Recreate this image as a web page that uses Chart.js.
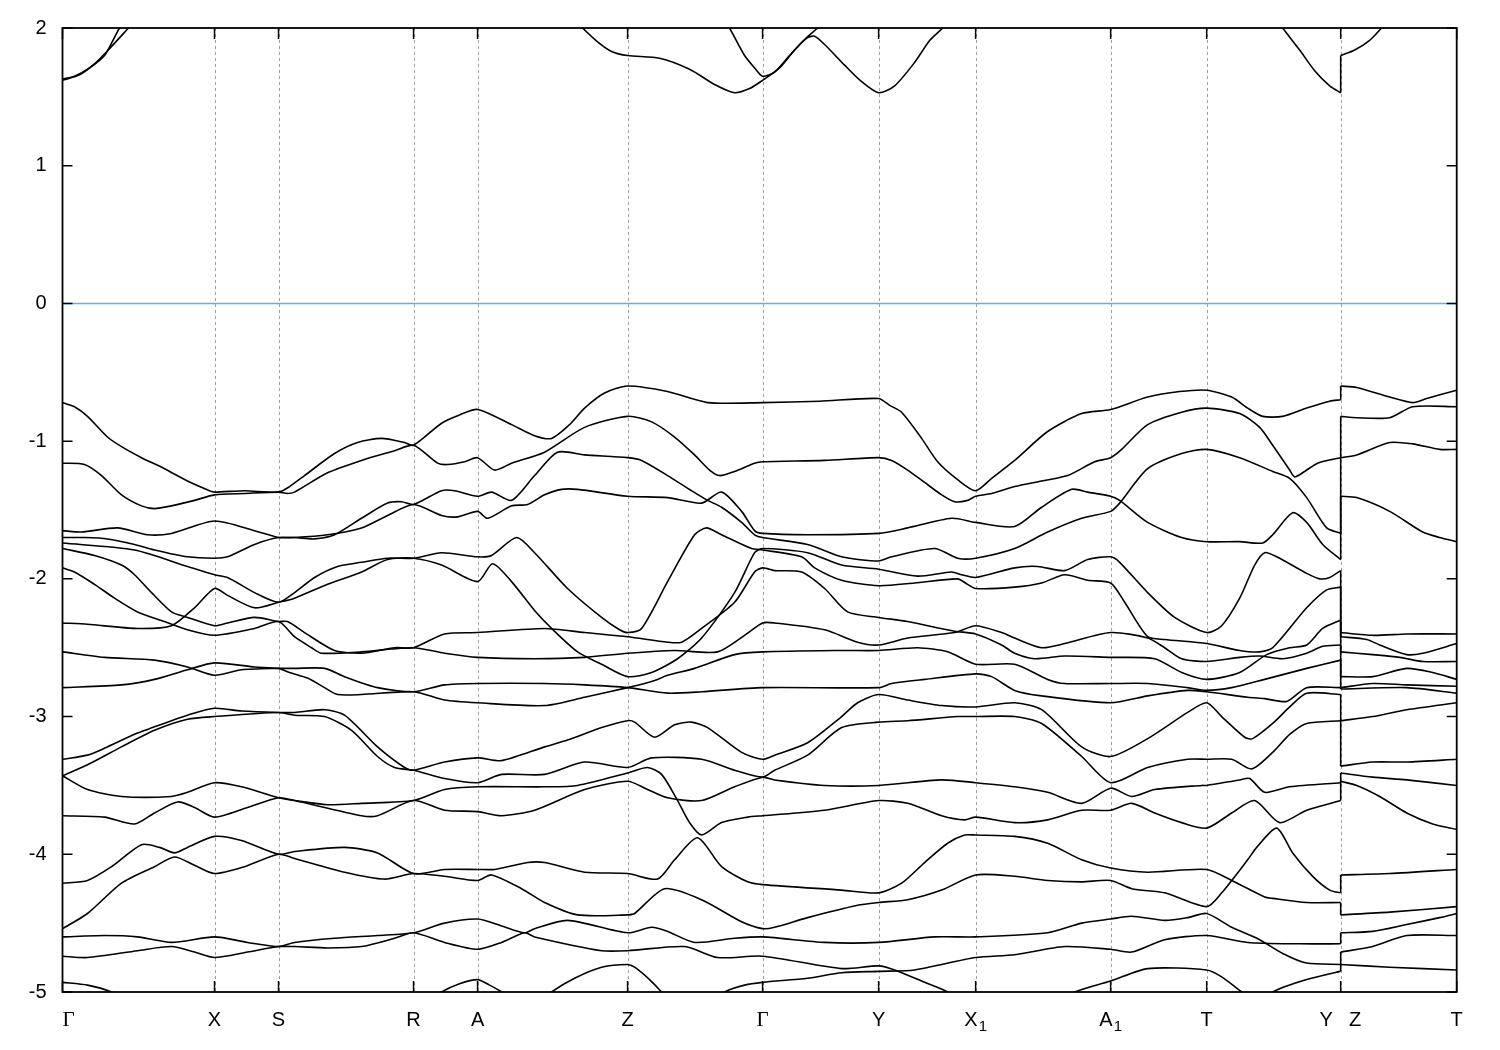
<!DOCTYPE html>
<html>
<head>
<meta charset="utf-8">
<script src="https://cdn.jsdelivr.net/npm/chart.js@4.4.1/dist/chart.umd.min.js"></script>
<style>
  html, body { margin: 0; padding: 0; background: #fff; }
  #wrap { width: 1500px; height: 1050px; }
</style>
</head>
<body>
<div id="wrap"><canvas id="bandChart" width="1500" height="1050"></canvas></div>
<script>
(function () {
  "use strict";

  // k-path (arb. units) and labels of the high-symmetry points
  const kTicks = [0, 0.152, 0.216, 0.351, 0.415, 0.565, 0.700, 0.816, 0.913, 1.048, 1.144, 1.278, 1.394];
  const kLabels = ["Γ", "X", "S", "R", "A", "Z", "Γ", "Y", "X_1", "A_1", "T", "Y|Z", "T"];
  const eTicks = [2, 1, 0, -1, -2, -3, -4, -5];
  const eRange = [-5, 2];
  const fermiLevel = 0;

  // conduction bands [k, E(eV)]
  const cb1 = [[0,1.63],[0.012,1.65],[0.027,1.71],[0.042,1.80],[0.057,2.00],[0.068,2.10]];
  const cb2 = [[0,1.62],[0.017,1.66],[0.032,1.74],[0.047,1.85],[0.066,2.00],[0.076,2.08]];
  const cb3 = [[0.510,2.08],[0.520,2.00],[0.535,1.90],[0.549,1.83],[0.565,1.80],[0.597,1.78],[0.627,1.70],[0.652,1.59],[0.672,1.53],[0.687,1.56],[0.700,1.62],[0.717,1.71],[0.732,1.84],[0.745,1.93],[0.752,1.94],[0.762,1.88],[0.782,1.73],[0.799,1.61],[0.816,1.53],[0.832,1.58],[0.852,1.75],[0.867,1.91],[0.880,2.00],[0.888,2.08]];
  const cb4 = [[0.660,2.08],[0.667,2.00],[0.682,1.80],[0.692,1.71],[0.700,1.65],[0.712,1.68],[0.727,1.80],[0.737,1.88],[0.747,1.95],[0.755,2.00],[0.762,2.06]];
  const cb5 = [[1.212,2.08],[1.220,2.00],[1.237,1.84],[1.252,1.69],[1.267,1.58],[1.278,1.53],[1.278,1.80],[1.292,1.84],[1.307,1.91],[1.319,2.00],[1.327,2.06]];

  // valence bands [k, E(eV)]
  const vb01 = [[0,-0.72],[0.012,-0.75],[0.025,-0.82],[0.045,-0.97],[0.059,-1.04],[0.079,-1.12],[0.102,-1.20],[0.125,-1.29],[0.147,-1.36],[0.152,-1.37],[0.182,-1.36],[0.216,-1.37],[0.227,-1.33],[0.242,-1.25],[0.272,-1.09],[0.295,-1.01],[0.319,-0.98],[0.342,-1.01],[0.351,-1.03],[0.379,-0.87],[0.397,-0.81],[0.415,-0.77],[0.449,-0.88],[0.472,-0.96],[0.489,-0.98],[0.507,-0.88],[0.522,-0.76],[0.542,-0.65],[0.565,-0.60],[0.605,-0.64],[0.645,-0.72],[0.700,-0.72],[0.757,-0.71],[0.816,-0.69],[0.827,-0.74],[0.839,-0.79],[0.859,-0.98],[0.875,-1.15],[0.895,-1.28],[0.913,-1.36],[0.929,-1.27],[0.952,-1.14],[0.985,-0.93],[1.019,-0.80],[1.048,-0.77],[1.085,-0.68],[1.117,-0.64],[1.144,-0.63],[1.169,-0.68],[1.185,-0.76],[1.200,-0.82],[1.220,-0.82],[1.244,-0.76],[1.267,-0.71],[1.278,-0.70],[1.278,-0.60],[1.294,-0.61],[1.327,-0.68],[1.350,-0.72],[1.364,-0.69],[1.394,-0.63]];
  const vb02 = [[0,-1.16],[0.022,-1.17],[0.039,-1.25],[0.059,-1.39],[0.079,-1.47],[0.092,-1.49],[0.109,-1.47],[0.132,-1.43],[0.152,-1.39],[0.182,-1.38],[0.216,-1.37],[0.225,-1.38],[0.232,-1.37],[0.265,-1.23],[0.299,-1.14],[0.332,-1.07],[0.351,-1.03],[0.375,-1.16],[0.385,-1.17],[0.402,-1.15],[0.415,-1.12],[0.432,-1.21],[0.449,-1.16],[0.482,-1.08],[0.522,-0.90],[0.565,-0.82],[0.589,-0.86],[0.612,-0.97],[0.632,-1.10],[0.647,-1.21],[0.657,-1.25],[0.672,-1.22],[0.692,-1.16],[0.700,-1.15],[0.762,-1.14],[0.816,-1.12],[0.829,-1.14],[0.845,-1.21],[0.862,-1.30],[0.879,-1.39],[0.892,-1.44],[0.905,-1.43],[0.913,-1.40],[0.929,-1.38],[0.952,-1.33],[0.979,-1.29],[1.005,-1.25],[1.032,-1.15],[1.048,-1.12],[1.059,-1.06],[1.085,-0.88],[1.119,-0.79],[1.144,-0.76],[1.177,-0.80],[1.197,-0.90],[1.210,-1.03],[1.227,-1.21],[1.232,-1.26],[1.242,-1.22],[1.255,-1.16],[1.278,-1.12],[1.278,-0.82],[1.294,-0.83],[1.327,-0.83],[1.350,-0.75],[1.394,-0.75]];
  const vb03 = [[0,-1.65],[0.019,-1.66],[0.055,-1.63],[0.085,-1.68],[0.109,-1.67],[0.152,-1.58],[0.192,-1.65],[0.216,-1.70],[0.232,-1.70],[0.252,-1.71],[0.272,-1.68],[0.299,-1.56],[0.325,-1.45],[0.339,-1.44],[0.351,-1.46],[0.379,-1.36],[0.392,-1.36],[0.415,-1.40],[0.429,-1.37],[0.449,-1.43],[0.472,-1.25],[0.495,-1.08],[0.522,-1.10],[0.565,-1.12],[0.579,-1.14],[0.605,-1.25],[0.629,-1.36],[0.645,-1.43],[0.659,-1.48],[0.679,-1.59],[0.692,-1.68],[0.700,-1.70],[0.745,-1.75],[0.779,-1.84],[0.816,-1.87],[0.829,-1.84],[0.872,-1.78],[0.895,-1.85],[0.913,-1.85],[0.952,-1.78],[0.985,-1.66],[1.019,-1.56],[1.048,-1.51],[1.057,-1.45],[1.085,-1.20],[1.119,-1.09],[1.144,-1.06],[1.177,-1.12],[1.210,-1.22],[1.227,-1.27],[1.244,-1.41],[1.264,-1.63],[1.278,-1.67],[1.278,-1.12],[1.294,-1.10],[1.327,-1.01],[1.350,-1.02],[1.377,-1.06],[1.394,-1.06]];
  const vb04 = [[0,-1.70],[0.022,-1.70],[0.045,-1.71],[0.072,-1.75],[0.092,-1.79],[0.125,-1.84],[0.152,-1.85],[0.165,-1.84],[0.192,-1.75],[0.216,-1.70],[0.232,-1.70],[0.265,-1.68],[0.299,-1.63],[0.325,-1.54],[0.351,-1.46],[0.379,-1.54],[0.395,-1.55],[0.415,-1.51],[0.425,-1.56],[0.449,-1.47],[0.465,-1.46],[0.482,-1.39],[0.499,-1.35],[0.515,-1.35],[0.565,-1.40],[0.605,-1.41],[0.639,-1.45],[0.659,-1.37],[0.679,-1.51],[0.692,-1.65],[0.700,-1.67],[0.745,-1.68],[0.816,-1.67],[0.845,-1.63],[0.889,-1.56],[0.913,-1.59],[0.952,-1.62],[0.979,-1.48],[1.009,-1.35],[1.025,-1.37],[1.048,-1.40],[1.057,-1.43],[1.085,-1.59],[1.119,-1.70],[1.144,-1.73],[1.177,-1.73],[1.200,-1.74],[1.210,-1.68],[1.230,-1.52],[1.244,-1.59],[1.260,-1.75],[1.278,-1.86],[1.278,-1.40],[1.294,-1.41],[1.327,-1.51],[1.360,-1.66],[1.377,-1.70],[1.394,-1.73]];
  const vb05 = [[0,-1.74],[0.072,-1.79],[0.125,-1.91],[0.152,-1.97],[0.165,-1.99],[0.192,-2.10],[0.216,-2.17],[0.232,-2.10],[0.252,-1.99],[0.275,-1.91],[0.299,-1.88],[0.325,-1.85],[0.351,-1.85],[0.379,-1.81],[0.415,-1.84],[0.429,-1.83],[0.454,-1.70],[0.472,-1.81],[0.505,-2.07],[0.539,-2.28],[0.557,-2.37],[0.565,-2.39],[0.579,-2.36],[0.605,-2.02],[0.632,-1.68],[0.644,-1.63],[0.659,-1.68],[0.689,-1.78],[0.700,-1.79],[0.739,-1.84],[0.752,-1.92],[0.779,-2.01],[0.816,-2.05],[0.852,-2.03],[0.895,-2.00],[0.905,-2.04],[0.913,-2.07],[0.952,-2.06],[0.979,-2.03],[1.002,-1.97],[1.025,-2.01],[1.048,-2.03],[1.062,-2.17],[1.085,-2.42],[1.102,-2.44],[1.144,-2.47],[1.177,-2.52],[1.197,-2.53],[1.210,-2.50],[1.244,-2.21],[1.264,-2.08],[1.278,-2.06],[1.278,-2.42],[1.304,-2.44],[1.317,-2.48],[1.344,-2.55],[1.360,-2.54],[1.394,-2.47]];
  const vb06 = [[0,-2.32],[0.025,-2.33],[0.075,-2.36],[0.109,-2.34],[0.132,-2.21],[0.152,-2.07],[0.165,-2.12],[0.192,-2.21],[0.216,-2.17],[0.232,-2.14],[0.265,-2.04],[0.299,-1.95],[0.325,-1.86],[0.351,-1.85],[0.379,-1.90],[0.415,-2.02],[0.430,-1.89],[0.449,-2.02],[0.472,-2.23],[0.489,-2.36],[0.515,-2.53],[0.539,-2.62],[0.565,-2.71],[0.589,-2.68],[0.615,-2.58],[0.639,-2.43],[0.672,-2.10],[0.692,-1.81],[0.700,-1.78],[0.745,-1.81],[0.779,-1.90],[0.816,-1.93],[0.855,-1.98],[0.889,-1.95],[0.899,-1.97],[0.913,-1.99],[0.952,-1.92],[0.975,-1.91],[1.002,-1.94],[1.025,-1.86],[1.048,-1.84],[1.057,-1.88],[1.085,-2.10],[1.112,-2.28],[1.144,-2.39],[1.159,-2.34],[1.177,-2.14],[1.192,-1.90],[1.202,-1.81],[1.214,-1.84],[1.244,-1.96],[1.257,-2.00],[1.267,-1.99],[1.278,-1.94],[1.278,-2.39],[1.310,-2.41],[1.344,-2.40],[1.394,-2.40]];
  const vb07 = [[0,-1.78],[0.032,-1.83],[0.059,-1.90],[0.072,-1.97],[0.089,-2.10],[0.109,-2.24],[0.125,-2.28],[0.152,-2.34],[0.165,-2.32],[0.192,-2.28],[0.216,-2.31],[0.225,-2.31],[0.242,-2.39],[0.272,-2.52],[0.299,-2.54],[0.332,-2.50],[0.351,-2.50],[0.382,-2.40],[0.415,-2.39],[0.482,-2.36],[0.522,-2.39],[0.565,-2.42],[0.605,-2.46],[0.619,-2.46],[0.639,-2.36],[0.672,-2.17],[0.692,-1.95],[0.700,-1.92],[0.712,-1.94],[0.739,-1.95],[0.762,-2.07],[0.785,-2.24],[0.816,-2.28],[0.845,-2.31],[0.892,-2.38],[0.913,-2.40],[0.939,-2.48],[0.952,-2.54],[0.972,-2.58],[1.002,-2.56],[1.048,-2.57],[1.092,-2.58],[1.119,-2.68],[1.144,-2.73],[1.177,-2.68],[1.204,-2.55],[1.227,-2.50],[1.244,-2.48],[1.260,-2.36],[1.278,-2.30],[1.278,-2.53],[1.310,-2.55],[1.337,-2.57],[1.360,-2.60],[1.394,-2.60]];
  const vb08 = [[0,-1.92],[0.012,-1.95],[0.032,-2.04],[0.052,-2.14],[0.075,-2.24],[0.102,-2.31],[0.125,-2.37],[0.152,-2.41],[0.192,-2.36],[0.216,-2.31],[0.232,-2.42],[0.249,-2.50],[0.259,-2.54],[0.299,-2.53],[0.351,-2.50],[0.382,-2.54],[0.415,-2.57],[0.472,-2.58],[0.522,-2.57],[0.565,-2.54],[0.612,-2.52],[0.655,-2.53],[0.682,-2.41],[0.700,-2.32],[0.712,-2.32],[0.762,-2.37],[0.795,-2.46],[0.816,-2.48],[0.845,-2.43],[0.892,-2.39],[0.913,-2.34],[0.939,-2.39],[0.952,-2.43],[0.979,-2.50],[1.002,-2.47],[1.048,-2.39],[1.085,-2.43],[1.102,-2.50],[1.119,-2.58],[1.144,-2.60],[1.177,-2.57],[1.197,-2.56],[1.220,-2.58],[1.244,-2.54],[1.260,-2.49],[1.278,-2.48],[1.278,-2.71],[1.310,-2.71],[1.344,-2.65],[1.370,-2.68],[1.394,-2.73]];
  const vb09 = [[0,-2.53],[0.042,-2.57],[0.092,-2.59],[0.125,-2.64],[0.152,-2.70],[0.179,-2.66],[0.216,-2.65],[0.232,-2.65],[0.262,-2.65],[0.282,-2.71],[0.315,-2.79],[0.351,-2.82],[0.382,-2.77],[0.415,-2.76],[0.482,-2.76],[0.522,-2.77],[0.565,-2.79],[0.605,-2.83],[0.639,-2.82],[0.700,-2.79],[0.816,-2.79],[0.829,-2.76],[0.862,-2.73],[0.913,-2.69],[0.929,-2.71],[0.952,-2.81],[0.979,-2.85],[1.048,-2.90],[1.085,-2.85],[1.125,-2.81],[1.144,-2.82],[1.185,-2.86],[1.202,-2.87],[1.224,-2.89],[1.244,-2.79],[1.278,-2.79],[1.278,-2.80],[1.344,-2.79],[1.394,-2.83]];
  const vb10 = [[0,-2.79],[0.059,-2.77],[0.092,-2.73],[0.125,-2.66],[0.152,-2.61],[0.192,-2.64],[0.216,-2.65],[0.227,-2.68],[0.245,-2.72],[0.262,-2.79],[0.275,-2.84],[0.299,-2.84],[0.351,-2.82],[0.382,-2.88],[0.415,-2.90],[0.482,-2.92],[0.522,-2.86],[0.565,-2.79],[0.582,-2.76],[0.595,-2.73],[0.605,-2.70],[0.632,-2.65],[0.672,-2.55],[0.700,-2.53],[0.779,-2.52],[0.816,-2.52],[0.855,-2.50],[0.885,-2.53],[0.913,-2.62],[0.952,-2.62],[0.985,-2.73],[1.002,-2.76],[1.048,-2.76],[1.085,-2.76],[1.125,-2.79],[1.144,-2.81],[1.169,-2.79],[1.202,-2.73],[1.244,-2.65],[1.278,-2.59],[1.278,-2.79],[1.310,-2.76],[1.344,-2.77],[1.394,-2.78]];
  const vb11 = [[0,-3.31],[0.025,-3.28],[0.042,-3.23],[0.075,-3.12],[0.109,-3.03],[0.125,-2.99],[0.152,-2.94],[0.179,-2.96],[0.216,-2.97],[0.232,-2.97],[0.262,-2.95],[0.282,-2.99],[0.315,-3.22],[0.342,-3.37],[0.351,-3.39],[0.382,-3.33],[0.415,-3.30],[0.439,-3.32],[0.482,-3.22],[0.505,-3.17],[0.539,-3.08],[0.565,-3.03],[0.572,-3.04],[0.592,-3.15],[0.612,-3.06],[0.629,-3.04],[0.645,-3.08],[0.679,-3.26],[0.700,-3.31],[0.712,-3.28],[0.745,-3.19],[0.779,-3.00],[0.795,-2.90],[0.816,-2.84],[0.845,-2.88],[0.879,-2.92],[0.913,-2.93],[0.952,-2.90],[0.979,-2.95],[1.019,-3.22],[1.048,-3.29],[1.085,-3.16],[1.125,-2.97],[1.144,-2.90],[1.159,-3.00],[1.182,-3.15],[1.190,-3.16],[1.210,-3.05],[1.227,-2.93],[1.244,-2.83],[1.278,-2.84],[1.278,-3.03],[1.310,-3.00],[1.344,-2.95],[1.394,-2.90]];
  const vb12 = [[0,-3.43],[0.025,-3.35],[0.059,-3.22],[0.092,-3.10],[0.125,-3.02],[0.152,-3.00],[0.216,-2.97],[0.232,-2.99],[0.262,-3.00],[0.289,-3.10],[0.315,-3.29],[0.332,-3.37],[0.351,-3.39],[0.382,-3.45],[0.415,-3.48],[0.439,-3.42],[0.482,-3.42],[0.522,-3.33],[0.565,-3.37],[0.589,-3.30],[0.639,-3.31],[0.672,-3.39],[0.700,-3.44],[0.712,-3.39],[0.745,-3.28],[0.779,-3.08],[0.816,-3.04],[0.845,-3.03],[0.895,-3.00],[0.913,-3.00],[0.952,-3.00],[0.979,-3.05],[1.019,-3.29],[1.048,-3.48],[1.085,-3.37],[1.125,-3.31],[1.144,-3.31],[1.169,-3.31],[1.189,-3.38],[1.210,-3.26],[1.227,-3.13],[1.244,-3.05],[1.278,-3.03],[1.278,-3.36],[1.310,-3.33],[1.344,-3.33],[1.394,-3.31]];
  const vb13 = [[0,-3.43],[0.025,-3.53],[0.059,-3.58],[0.109,-3.58],[0.125,-3.55],[0.152,-3.48],[0.179,-3.51],[0.216,-3.59],[0.232,-3.61],[0.265,-3.64],[0.299,-3.63],[0.351,-3.61],[0.382,-3.53],[0.415,-3.51],[0.482,-3.51],[0.515,-3.50],[0.565,-3.41],[0.585,-3.37],[0.599,-3.42],[0.615,-3.61],[0.627,-3.77],[0.639,-3.86],[0.659,-3.77],[0.685,-3.73],[0.700,-3.72],[0.762,-3.68],[0.816,-3.61],[0.845,-3.63],[0.879,-3.72],[0.902,-3.75],[0.913,-3.73],[0.952,-3.77],[0.985,-3.75],[1.019,-3.68],[1.048,-3.68],[1.069,-3.63],[1.092,-3.70],[1.119,-3.77],[1.144,-3.81],[1.169,-3.70],[1.192,-3.61],[1.217,-3.77],[1.244,-3.68],[1.278,-3.61],[1.278,-3.47],[1.294,-3.50],[1.317,-3.58],[1.344,-3.70],[1.370,-3.78],[1.394,-3.82]];
  const vb14 = [[0,-3.72],[0.042,-3.73],[0.072,-3.78],[0.092,-3.70],[0.115,-3.62],[0.132,-3.66],[0.152,-3.73],[0.185,-3.66],[0.216,-3.59],[0.232,-3.61],[0.299,-3.72],[0.315,-3.72],[0.351,-3.61],[0.382,-3.68],[0.415,-3.69],[0.439,-3.72],[0.472,-3.68],[0.522,-3.53],[0.565,-3.47],[0.585,-3.53],[0.605,-3.59],[0.639,-3.61],[0.672,-3.51],[0.700,-3.44],[0.712,-3.46],[0.762,-3.50],[0.816,-3.50],[0.879,-3.46],[0.913,-3.48],[0.952,-3.51],[0.985,-3.55],[1.019,-3.63],[1.048,-3.52],[1.069,-3.58],[1.092,-3.53],[1.139,-3.50],[1.144,-3.50],[1.177,-3.46],[1.187,-3.45],[1.202,-3.55],[1.227,-3.51],[1.278,-3.48],[1.278,-3.41],[1.310,-3.44],[1.344,-3.46],[1.394,-3.50]];
  const vb15 = [[0,-4.21],[0.025,-4.19],[0.049,-4.09],[0.079,-3.93],[0.097,-3.95],[0.112,-3.99],[0.125,-3.95],[0.152,-3.87],[0.179,-3.90],[0.216,-4.00],[0.232,-3.98],[0.282,-3.95],[0.315,-3.99],[0.351,-4.14],[0.382,-4.11],[0.415,-4.11],[0.432,-4.11],[0.465,-4.06],[0.482,-4.06],[0.522,-4.13],[0.565,-4.14],[0.595,-4.18],[0.612,-4.04],[0.635,-3.88],[0.659,-4.09],[0.685,-4.20],[0.700,-4.22],[0.779,-4.26],[0.816,-4.28],[0.839,-4.21],[0.862,-4.06],[0.885,-3.92],[0.902,-3.86],[0.913,-3.86],[0.952,-3.87],[0.985,-3.92],[1.019,-4.04],[1.048,-4.10],[1.085,-4.13],[1.144,-4.11],[1.169,-4.19],[1.202,-4.31],[1.210,-4.32],[1.244,-4.35],[1.278,-4.35],[1.278,-4.44],[1.327,-4.42],[1.394,-4.38]];
  const vb16 = [[0,-4.54],[0.025,-4.43],[0.059,-4.21],[0.092,-4.09],[0.112,-4.02],[0.132,-4.08],[0.152,-4.14],[0.182,-4.09],[0.216,-4.00],[0.232,-4.03],[0.282,-4.13],[0.322,-4.18],[0.351,-4.14],[0.382,-4.16],[0.415,-4.19],[0.429,-4.15],[0.459,-4.25],[0.482,-4.35],[0.515,-4.44],[0.565,-4.44],[0.572,-4.43],[0.602,-4.25],[0.639,-4.33],[0.679,-4.49],[0.700,-4.54],[0.712,-4.53],[0.745,-4.46],[0.795,-4.37],[0.816,-4.35],[0.845,-4.33],[0.879,-4.26],[0.913,-4.15],[0.952,-4.16],[0.985,-4.19],[1.019,-4.20],[1.048,-4.19],[1.069,-4.25],[1.102,-4.28],[1.144,-4.38],[1.159,-4.28],[1.185,-4.04],[1.194,-3.95],[1.214,-3.81],[1.230,-3.99],[1.250,-4.16],[1.267,-4.26],[1.278,-4.28],[1.278,-4.15],[1.327,-4.14],[1.394,-4.11]];
  const vb17 = [[0,-4.60],[0.042,-4.59],[0.075,-4.60],[0.109,-4.64],[0.152,-4.60],[0.185,-4.64],[0.216,-4.67],[0.232,-4.64],[0.272,-4.61],[0.315,-4.59],[0.351,-4.57],[0.382,-4.50],[0.415,-4.47],[0.439,-4.52],[0.462,-4.57],[0.472,-4.54],[0.505,-4.48],[0.565,-4.57],[0.589,-4.53],[0.605,-4.56],[0.632,-4.64],[0.672,-4.61],[0.700,-4.60],[0.762,-4.64],[0.816,-4.64],[0.872,-4.60],[0.913,-4.60],[0.985,-4.57],[1.019,-4.50],[1.048,-4.47],[1.069,-4.45],[1.102,-4.48],[1.125,-4.46],[1.144,-4.43],[1.169,-4.53],[1.197,-4.62],[1.220,-4.72],[1.244,-4.79],[1.278,-4.80],[1.278,-4.71],[1.310,-4.67],[1.344,-4.59],[1.394,-4.59]];
  const vb18 = [[0,-4.74],[0.025,-4.75],[0.075,-4.70],[0.109,-4.67],[0.132,-4.71],[0.152,-4.75],[0.185,-4.71],[0.216,-4.67],[0.232,-4.67],[0.265,-4.68],[0.299,-4.67],[0.332,-4.61],[0.351,-4.57],[0.382,-4.64],[0.415,-4.69],[0.439,-4.64],[0.462,-4.57],[0.472,-4.60],[0.539,-4.70],[0.565,-4.70],[0.622,-4.67],[0.655,-4.75],[0.700,-4.74],[0.779,-4.83],[0.816,-4.81],[0.832,-4.84],[0.862,-4.93],[0.885,-5.00],[0.902,-5.09]];
  const vb19 = [[0,-4.93],[0.025,-4.95],[0.049,-5.00],[0.072,-5.09]];
  const vb20 = [[0.362,-5.09],[0.379,-5.00],[0.397,-4.94],[0.415,-4.91],[0.427,-4.95],[0.439,-5.00],[0.452,-5.08]];
  const vb21 = [[0.477,-5.08],[0.489,-5.00],[0.512,-4.90],[0.539,-4.82],[0.565,-4.80],[0.572,-4.82],[0.587,-4.91],[0.599,-5.00],[0.609,-5.08]];
  const vb22 = [[0.649,-5.08],[0.662,-5.00],[0.682,-4.95],[0.700,-4.93],[0.745,-4.90],[0.779,-4.86],[0.816,-4.85],[0.852,-4.84],[0.913,-4.75],[0.952,-4.73],[1.002,-4.67],[1.048,-4.69],[1.069,-4.71],[1.102,-4.62],[1.144,-4.59],[1.185,-4.64],[1.237,-4.65],[1.278,-4.65],[1.278,-4.57],[1.310,-4.56],[1.344,-4.51],[1.377,-4.46],[1.394,-4.43]];
  const vb23 = [[0.997,-5.08],[1.012,-5.00],[1.048,-4.92],[1.085,-4.83],[1.144,-4.84],[1.159,-4.89],[1.179,-5.00],[1.194,-5.08],[1.199,-5.08],[1.210,-5.00],[1.244,-4.91],[1.278,-4.85],[1.278,-4.80],[1.327,-4.82],[1.394,-4.84]];

  const conductionBands = [cb1, cb2, cb3, cb4, cb5];
  const valenceBands = [vb01, vb02, vb03, vb04, vb05, vb06, vb07, vb08, vb09, vb10, vb11, vb12,
    vb13, vb14, vb15, vb16, vb17, vb18, vb19, vb20, vb21, vb22, vb23];

  const toXY = pts => pts.map(p => ({ x: p[0], y: p[1] }));

  // the Y|Z point is a jump: draw smooth pieces plus a straight connector
  function bandDatasets(points) {
    const pieces = [[points[0]]];
    const jumps = [];
    for (let i = 1; i < points.length; i++) {
      if (points[i][0] === points[i - 1][0]) {
        jumps.push([points[i - 1], points[i]]);
        pieces.push([points[i]]);
      } else {
        pieces[pieces.length - 1].push(points[i]);
      }
    }
    const style = { borderColor: "#000", borderWidth: 1.6, pointRadius: 0, fill: false };
    return pieces.map(p => Object.assign({ data: toXY(p), tension: 0.25 }, style))
      .concat(jumps.map(j => Object.assign({ data: toXY(j), tension: 0 }, style)));
  }

  const datasets = [{
    data: toXY([[kTicks[0], fermiLevel], [kTicks[kTicks.length - 1], fermiLevel]]),
    borderColor: "#56b4e9", borderWidth: 1.5, pointRadius: 0, tension: 0
  }];
  conductionBands.concat(valenceBands).forEach(b => datasets.push(...bandDatasets(b)));

  const labelFont = "20px 'Liberation Sans', Arial, sans-serif";
  const greekFont = "21px 'Liberation Serif', 'Times New Roman', serif";
  const subFont = "15px 'Liberation Sans', Arial, sans-serif";

  function drawKLabel(ctx, text, cx, cy) {
    const parts = text.split("_");
    ctx.font = parts[0] === "Γ" ? greekFont : labelFont;
    const w0 = ctx.measureText(parts[0]).width;
    let w1 = 0;
    if (parts[1]) { ctx.font = subFont; w1 = ctx.measureText(parts[1]).width + 1; }
    const left = cx - (w0 + w1) / 2;
    ctx.textAlign = "left";
    ctx.font = parts[0] === "Γ" ? greekFont : labelFont;
    ctx.fillText(parts[0], left, cy);
    if (parts[1]) { ctx.font = subFont; ctx.fillText(parts[1], left + w0 + 1, cy + 7); }
  }

  const frame = {
    id: "frame",
    beforeDatasetsDraw(chart) {
      const { ctx, chartArea: a, scales: { x } } = chart;
      ctx.save();
      ctx.strokeStyle = "#a0a0a0";
      ctx.lineWidth = 1;
      ctx.setLineDash([3, 3]);
      kTicks.slice(1, -1).forEach(k => {
        const px = Math.round(x.getPixelForValue(k)) + 0.5;
        ctx.beginPath(); ctx.moveTo(px, a.top); ctx.lineTo(px, a.bottom); ctx.stroke();
      });
      ctx.restore();
    },
    afterDraw(chart) {
      const { ctx, chartArea: a, scales: { x, y } } = chart;
      ctx.save();
      ctx.strokeStyle = "#000";
      ctx.lineWidth = 1.8;
      ctx.strokeRect(a.left, a.top, a.right - a.left, a.bottom - a.top);
      ctx.lineWidth = 1.5;
      eTicks.forEach(v => {
        const py = y.getPixelForValue(v);
        ctx.beginPath();
        ctx.moveTo(a.left, py); ctx.lineTo(a.left + 10, py);
        ctx.moveTo(a.right, py); ctx.lineTo(a.right - 10, py);
        ctx.stroke();
      });
      kTicks.forEach(k => {
        const px = x.getPixelForValue(k);
        ctx.beginPath();
        ctx.moveTo(px, a.bottom); ctx.lineTo(px, a.bottom - 11);
        ctx.moveTo(px, a.top); ctx.lineTo(px, a.top + 11);
        ctx.stroke();
      });
      ctx.fillStyle = "#000";
      ctx.font = labelFont;
      ctx.textAlign = "right";
      ctx.textBaseline = "middle";
      eTicks.forEach(v => ctx.fillText(String(v), a.left - 16, y.getPixelForValue(v)));
      const ly = a.bottom + 28;
      kTicks.forEach((k, i) => {
        const px = x.getPixelForValue(k) + (i === 0 ? 6 : 0);
        const label = kLabels[i];
        if (label.includes("|")) {
          const [l, r] = label.split("|");
          drawKLabel(ctx, l, px - 14.5, ly);
          drawKLabel(ctx, r, px + 14.5, ly);
        } else {
          drawKLabel(ctx, label, px, ly);
        }
      });
      ctx.restore();
    }
  };

  new Chart(document.getElementById("bandChart"), {
    type: "line",
    data: { datasets },
    options: {
      responsive: false,
      animation: false,
      devicePixelRatio: 1,
      parsing: false,
      events: [],
      layout: { padding: { left: 62.5, right: 43.3, top: 28, bottom: 58 } },
      plugins: { legend: { display: false }, tooltip: { enabled: false } },
      scales: {
        x: { type: "linear", min: kTicks[0], max: kTicks[kTicks.length - 1], display: false },
        y: { type: "linear", min: eRange[0], max: eRange[1], display: false }
      }
    },
    plugins: [frame]
  });
})();
</script>
</body>
</html>
